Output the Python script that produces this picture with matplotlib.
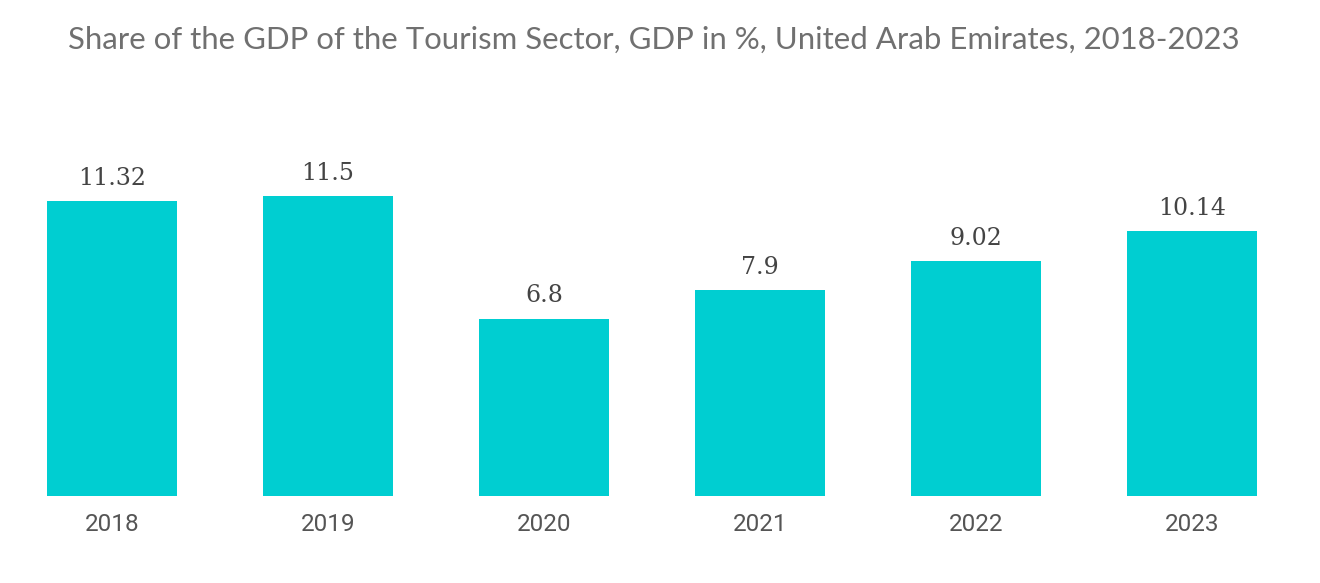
import matplotlib.pyplot as plt

years = ["2018", "2019", "2020", "2021", "2022", "2023"]
share = [11.32, 11.5, 6.8, 7.9, 9.02, 10.14]
value_labels = ["11.32", "11.5", "6.8", "7.9", "9.02", "10.14"]

bar_color = "#00CED1"

fig = plt.figure(figsize=(13.2, 5.83), dpi=100)
ax = fig.add_axes([4 / 1320, 87 / 583, 1296 / 1320, 360 / 583])

x = range(len(years))
bars = ax.bar(x, share, width=0.6, color=bar_color)

for b, lab in zip(bars, value_labels):
    ax.annotate(lab, (b.get_x() + b.get_width() / 2, b.get_height()),
                xytext=(0, 8), textcoords="offset points", ha="center", va="bottom",
                fontsize=17, family="DejaVu Serif", color="#444444")

ax.set_xlim(-0.5, 5.5)
ax.set_ylim(0, 360 / 26.09)
ax.set_xticks(list(x))
ax.set_xticklabels(years, fontsize=17.5, family="Roboto", color="#555555")
ax.tick_params(axis="x", length=0, pad=12)
ax.set_yticks([])
for s in ax.spines.values():
    s.set_visible(False)

fig.text(68 / 1320, 1 - 40 / 583, "Share of the GDP of the Tourism Sector, GDP in %, United Arab Emirates, 2018-2023",
         fontsize=22.4, family="Lato", color="#707070", ha="left", va="center")

fig.savefig("out.png", dpi=100)
